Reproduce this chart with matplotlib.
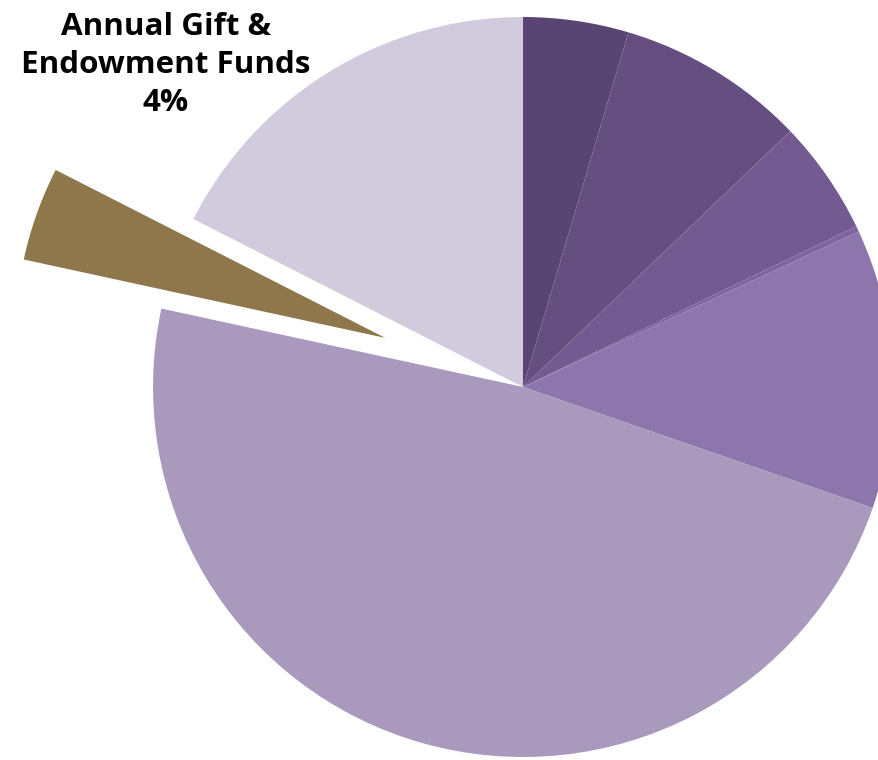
import matplotlib.pyplot as plt

# slice shares, clockwise from 12 o'clock (percent)
shares = [4.6, 8.25, 5.0, 0.25, 12.2, 48.1, 4.1, 17.5]
colors = ['#584572', '#654f80', '#735a91', '#7e64a0', '#8c76ab',
          '#a899bd', '#8e784b', '#d2cbdd']
explode_idx = 6
label_text = "Annual Gift &\nEndowment Funds\n4%"

W, H = 879, 760
R = 370
cx, cy = 523, H - 387

fig = plt.figure(figsize=(W / 100, H / 100), dpi=100)
ax = fig.add_axes([0, 0, 1, 1])

# explode is in data units here, not radius units
explode = [0] * len(shares)
explode[explode_idx] = 0.395 * R

ax.pie(shares, colors=colors, radius=R, center=(cx, cy), startangle=90,
       counterclock=False, explode=explode,
       wedgeprops=dict(linewidth=0), frame=False)
ax.set_xlim(0, W)
ax.set_ylim(0, H)
ax.set_aspect('equal')
ax.axis('off')

ax.text(166, H - 65, label_text, ha='center', va='center',
        fontsize=22.6, fontweight='bold', family='Open Sans',
        linespacing=1.36, color='black')

fig.savefig('out.png', dpi=100)
